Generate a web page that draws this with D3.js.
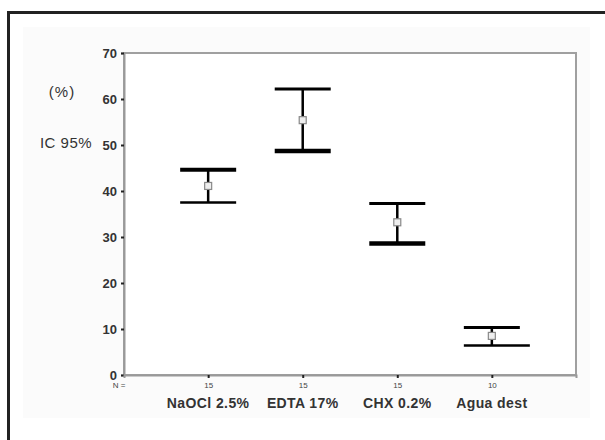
<!DOCTYPE html>
<html>
<head>
<meta charset="utf-8">
<script src="https://cdn.jsdelivr.net/npm/d3@7"></script>
<style>
	body { margin: 0; background: #fff; }
	svg { display: block; font-family: "Liberation Sans", Arial, sans-serif; }
</style>
</head>
<body>
<svg width="605" height="440"></svg>
<script>
var categories = ["NaOCl 2.5%", "EDTA 17%", "CHX 0.2%", "Agua dest"],
	counts = [15, 15, 15, 10],
	means = [41.1, 55.4, 33.2, 8.5],
	lower = [37.5, 48.7, 28.6, 6.4],
	upper = [44.6, 62.2, 37.3, 10.3],
	yTicks = [0, 10, 20, 30, 40, 50, 60, 70];

var svg = d3.select("svg"),
	margin = {top: 53, right: 29, bottom: 65, left: 124},
	width = 605 - margin.left - margin.right,
	height = 440 - margin.top - margin.bottom;

// scanned page look: dark frame + very light panel
svg.append("rect")
	.attr("x", 8.5).attr("y", 12.5)
	.attr("width", 700).attr("height", 600)
	.attr("fill", "#fff")
	.attr("stroke", "#222")
	.attr("stroke-width", 3);

svg.append("rect")
	.attr("x", 23).attr("y", 27)
	.attr("width", 567).attr("height", 391)
	.attr("fill", "#fbfbfb");

var x = d3.scalePoint()
	.domain(categories)
	.range([0, width])
	.padding(0.89);

var y = d3.scaleLinear()
	.domain([0, 70])
	.range([height, 0]);

var g = svg.append("g")
	.attr("transform", "translate(" + margin.left + "," + margin.top + ")");

g.append("rect")
	.attr("width", width)
	.attr("height", height)
	.attr("fill", "#fff")
	.attr("stroke", "#a0a0a0")
	.attr("stroke-width", 2);

var yAxis = g.append("g")
	.call(d3.axisLeft(y).tickValues(yTicks).tickSize(3).tickPadding(4));
yAxis.select(".domain").attr("stroke", "#999").attr("stroke-width", 2);
yAxis.selectAll(".tick line").attr("stroke", "#222").attr("stroke-width", 2);
yAxis.selectAll(".tick text")
	.attr("fill", "#333")
	.style("font-size", "13px")
	.style("font-weight", "bold");

var xAxis = g.append("g")
	.attr("transform", "translate(0," + height + ")")
	.call(d3.axisBottom(x).tickSize(3).tickPadding(4)
		.tickFormat(function(d, i) { return counts[i]; }));
xAxis.select(".domain").attr("stroke", "#999").attr("stroke-width", 2);
xAxis.selectAll(".tick line").attr("stroke", "#222").attr("stroke-width", 2);
xAxis.selectAll(".tick text")
	.attr("fill", "#444")
	.style("font-size", "8px");

g.append("text")
	.attr("x", -5)
	.attr("y", height + 13)
	.attr("text-anchor", "middle")
	.attr("fill", "#444")
	.style("font-size", "8px")
	.text("N =");

g.selectAll(".cat")
	.data(categories)
	.enter().append("text")
	.attr("class", "cat")
	.attr("x", function(d) { return x(d); })
	.attr("y", height + 33)
	.attr("text-anchor", "middle")
	.attr("fill", "#333")
	.style("font-size", "14px")
	.style("font-weight", "bold")
	.style("letter-spacing", "0.4px")
	.text(function(d) { return d; });

// y axis caption
svg.append("text")
	.attr("x", 62).attr("y", 97)
	.attr("text-anchor", "middle")
	.attr("fill", "#333")
	.style("font-size", "15px")
	.style("letter-spacing", "1px")
	.text("(%)");

svg.append("text")
	.attr("x", 66).attr("y", 148)
	.attr("text-anchor", "middle")
	.attr("fill", "#333")
	.style("font-size", "15px")
	.style("letter-spacing", "0.5px")
	.text("IC 95%");

// error bars
var capHalf = 28;
var bars = g.selectAll(".bar")
	.data(categories)
	.enter().append("g")
	.attr("class", "bar");

bars.append("line")
	.attr("x1", function(d) { return x(d); })
	.attr("x2", function(d) { return x(d); })
	.attr("y1", function(d, i) { return y(upper[i]); })
	.attr("y2", function(d, i) { return y(lower[i]); })
	.attr("stroke", "#000")
	.attr("stroke-width", 2.5);

bars.append("line")
	.attr("x1", function(d) { return x(d) - capHalf; })
	.attr("x2", function(d) { return x(d) + capHalf; })
	.attr("y1", function(d, i) { return y(upper[i]); })
	.attr("y2", function(d, i) { return y(upper[i]); })
	.attr("stroke", "#000")
	.attr("stroke-width", function(d, i) { return i === 0 ? 4 : 3; });

bars.append("line")
	.attr("x1", function(d) { return x(d) - capHalf; })
	.attr("x2", function(d, i) { return x(d) + capHalf + (i === 3 ? 10 : 0); })
	.attr("y1", function(d, i) { return y(lower[i]); })
	.attr("y2", function(d, i) { return y(lower[i]); })
	.attr("stroke", "#000")
	.attr("stroke-width", function(d, i) { return i === 1 || i === 2 ? 4.5 : 2.5; });

bars.append("rect")
	.attr("x", function(d) { return x(d) - 3.5; })
	.attr("y", function(d, i) { return y(means[i]) - 3.5; })
	.attr("width", 7)
	.attr("height", 7)
	.attr("fill", "#eee")
	.attr("stroke", "#888")
	.attr("stroke-width", 1.2);
</script>
</body>
</html>
